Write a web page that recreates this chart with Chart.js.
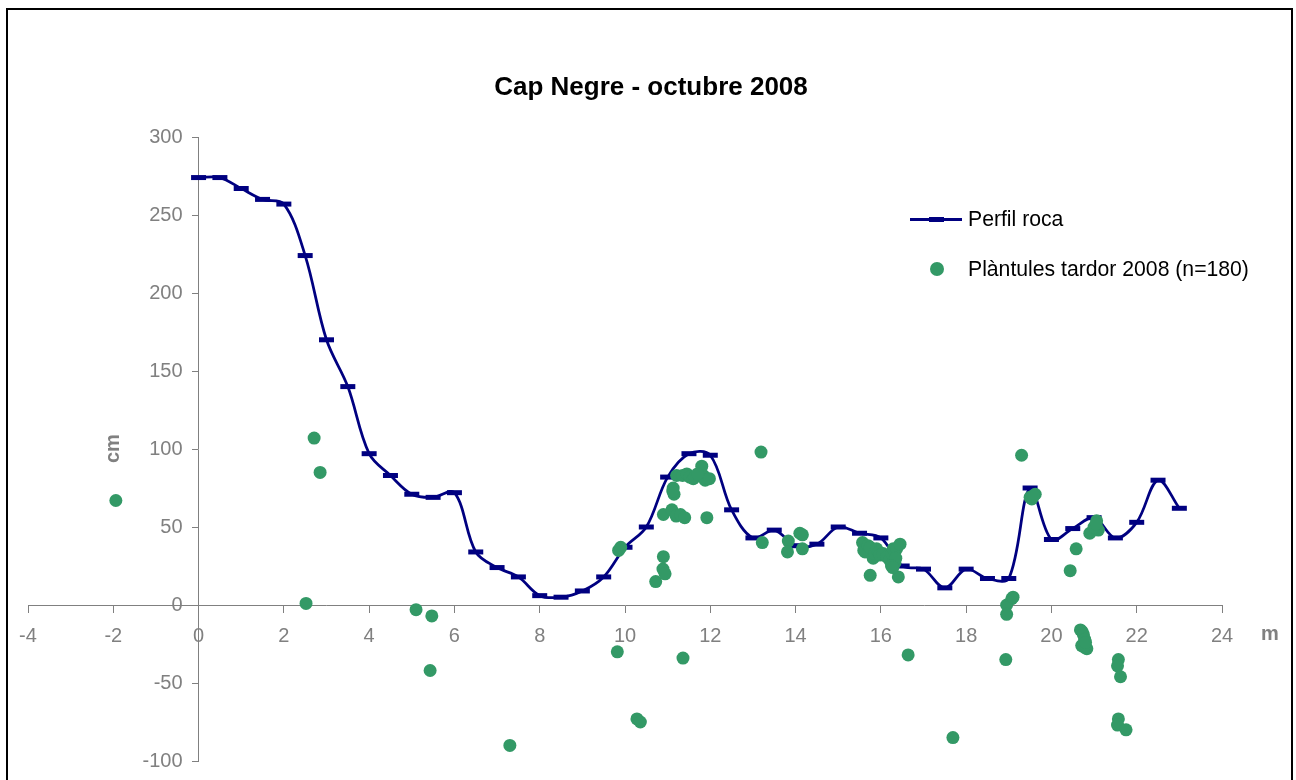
<!DOCTYPE html>
<html>
<head>
<meta charset="utf-8">
<title>Cap Negre - octubre 2008</title>
<script src="https://cdn.jsdelivr.net/npm/chart.js@4/dist/chart.umd.min.js"></script>
<style>
  body { margin: 0; background: #fff; font-family: "Liberation Sans", Arial, sans-serif; }
  #wrap { position: relative; width: 1296px; height: 780px; overflow: hidden; background: #fff; }
  #frame { position: absolute; left: 6px; top: 8px; width: 1287px; height: 800px; border: 2px solid #000; box-sizing: border-box; pointer-events: none; }
  #title { position: absolute; left: 0; top: 71px; width: 1302px; text-align: center; font-size: 26px; font-weight: bold; line-height: 30px; color: #000; }
  .unit { position: absolute; font-size: 20px; font-weight: bold; color: #808080; line-height: 24px; }
  #ytitle { left: 100px; top: 439px; width: 24px; height: 24px; text-align: center; transform: rotate(-90deg); }
  #xtitle { left: 1258px; top: 621px; width: 24px; text-align: center; }
  #legend { position: absolute; left: 905px; top: 205px; font-size: 21.2px; color: #000; }
  .item { position: relative; height: 50px; }
  .item span { position: absolute; left: 63px; top: 0px; line-height: 28px; white-space: nowrap; }
  .lineIcon { position: absolute; left: 5px; top: 13px; width: 52px; height: 2.5px; background: #000080; }
  .lineIcon i { position: absolute; left: 19px; top: -1px; width: 15px; height: 4.5px; background: #000080; }
  .dotIcon { position: absolute; left: 25px; top: 7px; width: 14px; height: 14px; border-radius: 50%; background: #339966; }
</style>
</head>
<body>
<div id="wrap">
  <canvas id="chart" width="1296" height="780"></canvas>
  <div id="title">Cap Negre - octubre 2008</div>
  <div class="unit" id="ytitle">cm</div>
  <div class="unit" id="xtitle">m</div>
  <div id="legend">
    <div class="item"><div class="lineIcon"><i></i></div><span>Perfil roca</span></div>
    <div class="item"><div class="dotIcon"></div><span>Plàntules tardor 2008 (n=180)</span></div>
  </div>
  <div id="frame"></div>
</div>
<script>
// perfil de la roca (m, cm)
const profileX = [0, 0.5, 1, 1.5, 2, 2.5, 3, 3.5, 4, 4.5, 5, 5.5, 6, 6.5, 7, 7.5, 8, 8.5, 9, 9.5,
  10, 10.5, 11, 11.5, 12, 12.5, 13, 13.5, 14, 14.5, 15, 15.5, 16, 16.5, 17, 17.5, 18, 18.5, 19,
  19.5, 20, 20.5, 21, 21.5, 22, 22.5, 23];
const profileY = [274, 274, 267, 260, 257, 224, 170, 140, 97, 83, 71, 69, 72, 34, 24, 18, 6, 5, 9, 18,
  37, 50, 82, 97, 96, 61, 43, 48, 38, 39, 50, 46, 43, 25, 23, 11, 23, 17, 17,
  75, 42, 49, 56, 43, 53, 80, 62];

// plantules tardor 2008
const seedX = [-1.94, 2.52, 2.71, 2.85, 5.1, 5.47, 5.43, 7.3, 9.82, 10.28, 10.36, 11.36,
  9.85, 9.9, 10.72, 10.9, 10.89, 10.94, 10.9, 11.1, 11.2, 11.3, 11.4, 11.92,
  11.13, 11.15, 11.12, 11.21, 11.35, 11.45, 11.52, 11.6, 11.64, 11.8, 11.84, 11.88, 11.98, 11.7,
  13.19, 13.22, 13.83, 13.81, 14.1, 14.16, 14.16,
  15.57, 15.6, 15.63, 15.7, 15.75, 15.82, 15.85, 15.9, 15.95, 15.98, 15.75, 16.05, 16.14, 16.2,
  16.25, 16.29, 16.3, 16.33, 16.37, 16.35, 16.45, 16.41, 16.25, 16.28,
  16.64, 17.69,
  18.95, 19.07, 19.1, 18.95, 18.93,
  19.3, 19.5, 19.62, 19.54, 19.58,
  20.44, 20.58, 20.9, 21.06, 21.1, 21.0, 21.05,
  20.68, 20.72, 20.75, 20.78, 20.71, 20.83, 20.77, 20.8,
  21.57, 21.55, 21.62, 21.57, 21.55, 21.75];
const seedY = [67, 1, 107, 85, -3, -7, -42, -90, -30, -73, -75, -34,
  35, 37, 15, 31, 23, 20, 58, 61, 57, 58, 56, 56,
  75, 71, 73, 83, 83, 84, 82, 81, 82, 89, 83, 80, 81, 84,
  98, 40, 41, 34, 46, 45, 36,
  40, 35, 34, 38, 37, 30, 33, 36, 34, 32, 19, 33, 31, 29,
  33, 36, 27, 27, 36, 30, 39, 18, 25, 24,
  -32, -85,
  0, 4, 5, -6, -35,
  96, 69, 71, 68, 70,
  22, 36, 46, 54, 48, 50, 52,
  -16, -17, -19, -22, -26, -28, -27, -24,
  -35, -39, -46, -73, -77, -80];

const xRange = [-4, 24];
const yRange = [-100, 300];

let profilePoints = [];
for (let i = 0; i < profileX.length; i++) {
  profilePoints[i] = { x: profileX[i], y: profileY[i] };
}
let seedPoints = [];
for (let i = 0; i < seedX.length; i++) {
  seedPoints[i] = { x: seedX[i], y: seedY[i] };
}

const tickFont = { family: '"Liberation Sans", Arial, sans-serif', size: 20 };
const axisGray = "#808080";

// y labels sit on the axis line when the axis is placed at x=0, push them left
const shiftYLabels = {
  id: "shiftYLabels",
  beforeDraw(chart) {
    let items = chart.scales.y.getLabelItems();
    items.forEach((it) => {
      if (!it.shifted) {
        it.options.translation[0] -= 16;
        it.shifted = true;
      }
    });
  },
};

let ctx = document.getElementById("chart").getContext("2d");

const myChart = new Chart(ctx, {
  type: "scatter",
  data: {
    datasets: [
      {
        label: "Plàntules tardor 2008 (n=180)",
        data: seedPoints,
        order: 1,
        backgroundColor: "#339966",
        borderColor: "#339966",
        pointRadius: 6.5,
        pointBorderWidth: 0,
        showLine: false,
      },
      {
        label: "Perfil roca",
        data: profilePoints,
        order: 2,
        showLine: true,
        tension: 0.35,
        borderColor: "#000080",
        borderWidth: 2.75,
        backgroundColor: "#000080",
        pointStyle: "line",
        pointRadius: 7.5,
        pointBorderWidth: 5,
        pointBorderColor: "#000080",
      },
    ],
  },
  options: {
    responsive: false,
    animation: false,
    events: [],
    layout: { padding: { left: 28, right: 74, top: 137, bottom: 19 } },
    plugins: {
      legend: { display: false },
      title: { display: false },
      tooltip: { enabled: false },
    },
    scales: {
      x: {
        type: "linear",
        position: { y: 0 },
        min: xRange[0],
        max: xRange[1],
        afterFit: (s) => { s.paddingLeft = 0; s.paddingRight = 0; s.paddingTop = 0; s.paddingBottom = 0; },
        ticks: { stepSize: 2, autoSkip: false, color: axisGray, font: tickFont, padding: 12, maxRotation: 0 },
        grid: { drawOnChartArea: false, drawTicks: true, tickLength: 7, color: axisGray },
        border: { color: axisGray, width: 1 },
      },
      y: {
        type: "linear",
        position: { x: 0 },
        min: yRange[0],
        max: yRange[1],
        afterFit: (s) => { s.paddingLeft = 0; s.paddingRight = 0; s.paddingTop = 0; s.paddingBottom = 0; },
        ticks: { stepSize: 50, autoSkip: false, color: axisGray, font: tickFont, padding: 10 },
        grid: { drawOnChartArea: false, drawTicks: true, tickLength: 6, color: axisGray },
        border: { color: axisGray, width: 1 },
      },
    },
  },
  plugins: [shiftYLabels],
});
</script>
</body>
</html>
